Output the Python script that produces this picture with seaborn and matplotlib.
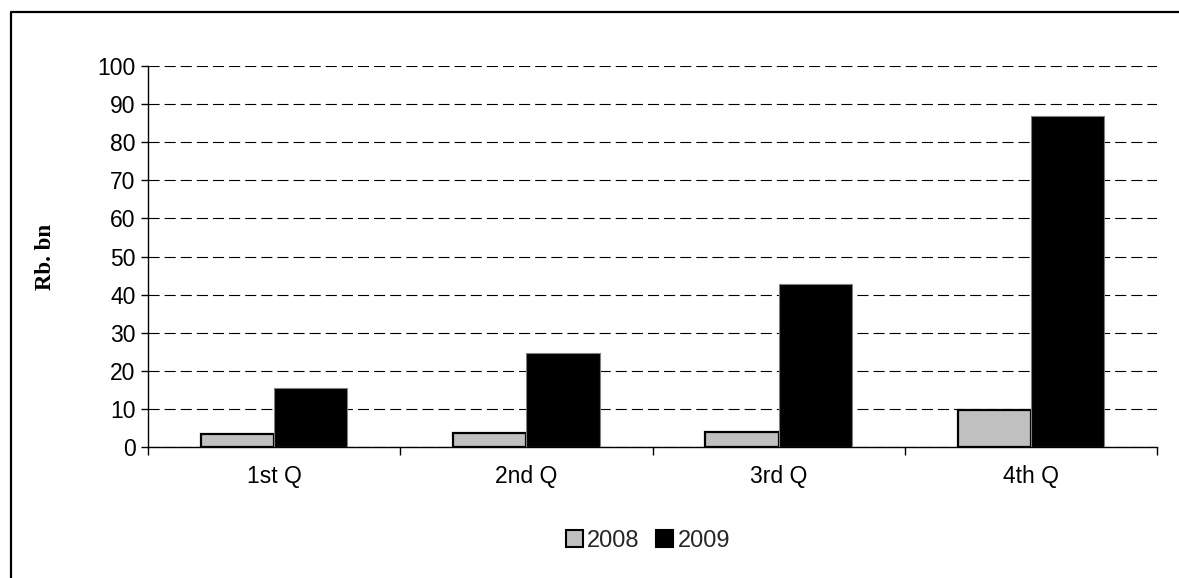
import matplotlib
matplotlib.use("Agg")
import matplotlib.pyplot as plt
from matplotlib.lines import Line2D
from matplotlib.patches import Patch
import seaborn as sns
import pandas as pd

quarters = ["1st Q", "2nd Q", "3rd Q", "4th Q"]
years = ["2008", "2009"]
values_2008 = [3.4, 3.6, 3.9, 9.6]
values_2009 = [15.6, 24.8, 42.8, 87.0]
y_ticks = [0, 10, 20, 30, 40, 50, 60, 70, 80, 90, 100]
colors = {"2008": "#C0C0C0", "2009": "#000000"}

df = pd.DataFrame({
    "quarter": quarters * 2,
    "year": ["2008"] * 4 + ["2009"] * 4,
    "value": values_2008 + values_2009,
})

sns.set_theme(style="white")
plt.rcParams["font.family"] = ["Liberation Sans", "DejaVu Sans"]

W, H = 1179, 578
fig = plt.figure(figsize=(W / 100, H / 100), dpi=100)
ax = fig.add_axes([148 / W, 1 - 447 / H, (1157 - 148) / W, (447 - 66) / H])

sns.barplot(data=df, x="quarter", y="value", hue="year", order=quarters,
            hue_order=years, palette=colors, width=0.58, gap=0,
            saturation=1, ax=ax, legend=False, zorder=3)

# outline styles: grey bars with a heavy black edge, black bars with a thin grey edge
for patch in ax.patches:
    fc = patch.get_facecolor()
    if fc[0] > 0.5:
        patch.set_edgecolor("black")
        patch.set_linewidth(1.6)
    else:
        patch.set_edgecolor("#808080")
        patch.set_linewidth(0.8)

ax.set_ylim(0, 100)
ax.set_xlim(-0.5, 3.5)
ax.set_yticks(y_ticks)
ax.set_yticklabels([str(v) for v in y_ticks])
ax.set_xticks(range(len(quarters)))
ax.set_xticklabels(quarters)
ax.set_xticks([i - 0.5 for i in range(len(quarters) + 1)], minor=True)

ax.yaxis.grid(True, color="black", linewidth=0.8, linestyle=(0, (10, 4.5)), zorder=1)
ax.xaxis.grid(False)
ax.set_axisbelow(True)

for side in ["top", "right"]:
    ax.spines[side].set_visible(False)
for side in ["left", "bottom"]:
    ax.spines[side].set_color("black")
    ax.spines[side].set_linewidth(1.0)

ax.tick_params(axis="x", which="major", length=0, pad=13, labelsize=16.5, colors="black")
ax.tick_params(axis="x", which="minor", length=6, width=1.0, direction="out",
               color="black", bottom=True)
ax.tick_params(axis="y", length=5, width=1.0, direction="out", left=True,
               labelsize=16.5, colors="black", pad=4)

ax.set_xlabel("")
ax.set_ylabel("Rb. bn", fontsize=16.5, fontweight="bold",
              fontfamily="Liberation Serif", color="black", labelpad=30)

handles = [Patch(facecolor=colors[y], edgecolor="black", linewidth=1.5) for y in years]
fig.legend(handles, years, loc="center", bbox_to_anchor=(648 / W, 1 - 541 / H),
           ncol=2, frameon=False, fontsize=17, handlelength=0.7,
           handleheight=0.7, handletextpad=0.2, columnspacing=0.7)

# outer frame along the left and top
fig.add_artist(Line2D([11 / W, 11 / W, 1.0], [0.0, 1 - 12 / H, 1 - 12 / H],
                      transform=fig.transFigure, color="black", linewidth=1.6))

fig.savefig("out.png", dpi=100)
